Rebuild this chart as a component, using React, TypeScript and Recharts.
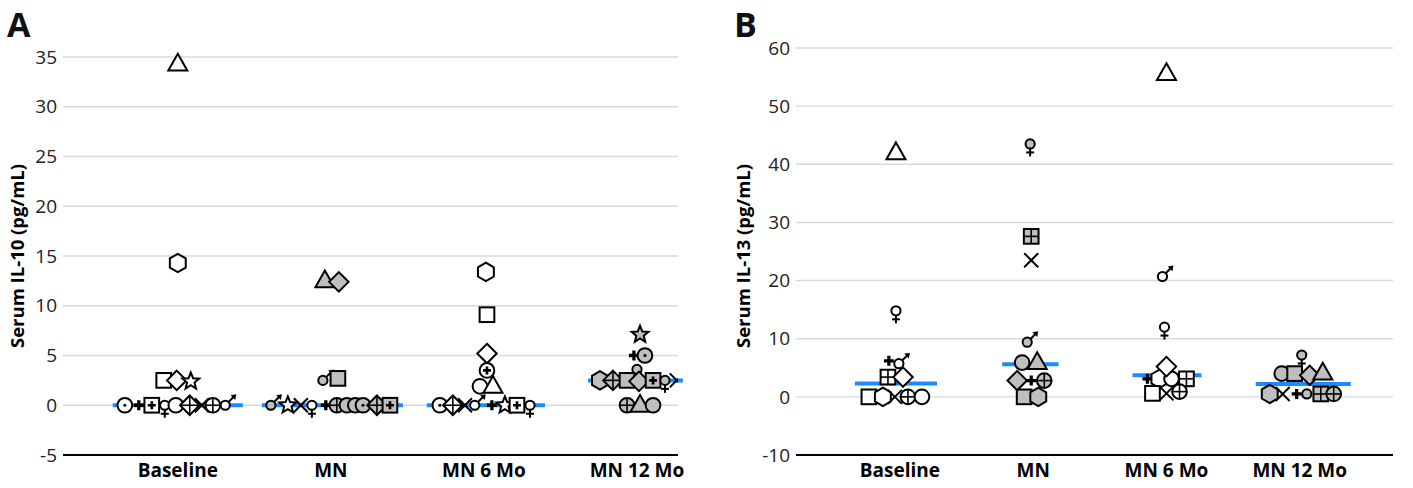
import React from "react";
import { ScatterChart, Scatter, XAxis, YAxis, CartesianGrid, ReferenceLine } from "recharts";

// [offset from category centre, value, marker, grey fill?]
type Pt = [number, number, string, number];

const categories = ["Baseline", "MN", "MN 6 Mo", "MN 12 Mo"];

const il10Ticks = [-5, 0, 5, 10, 15, 20, 25, 30, 35];
const il13Ticks = [-10, 0, 10, 20, 30, 40, 50, 60];

const il10Baseline: Pt[] = [
  [0, 34.3, "triangle", 0], [0, 14.3, "hexagon", 0],
  [-0.092, 2.5, "square", 0], [-0.007, 2.5, "diamond", 0], [0.085, 2.4, "star", 0],
  [-0.346, 0, "circleDot", 0], [-0.255, 0, "boldPlus", 0], [-0.17, 0, "squarePlus", 0],
  [-0.085, 0, "female", 0], [-0.013, 0, "circle", 0], [0.078, 0, "diamondPlus", 0],
  [0.157, 0, "x", 0], [0.229, 0, "circlePlus", 0], [0.31, 0, "male", 0],
];
const il10MN: Pt[] = [
  [-0.039, 12.5, "triangle", 1], [0.052, 12.4, "diamond", 1],
  [-0.052, 2.5, "male", 1], [0.046, 2.7, "square", 1],
  [-0.392, 0, "male", 1], [-0.281, 0, "star", 0], [-0.196, 0, "x", 0], [-0.124, 0, "female", 0],
  [-0.033, 0, "boldPlus", 0], [0.039, 0, "circlePlus", 1], [0.105, 0, "circle", 1],
  [0.16, 0, "circle", 1], [0.21, 0, "circleDot", 1], [0.301, 0, "diamondPlus", 1],
  [0.386, 0, "squarePlus", 1],
];
const il10MN6: Pt[] = [
  [0.013, 13.4, "hexagon", 0], [0.02, 9.1, "square", 0], [0.02, 5.2, "diamond", 0],
  [0.02, 3.5, "circleBoldPlus", 0], [-0.026, 1.9, "circle", 0], [0.059, 1.9, "triangle", 0],
  [-0.288, 0, "circleDot", 0], [-0.203, 0, "diamondPlus", 0], [-0.124, 0, "x", 0],
  [-0.06, 0, "male", 0], [0.052, 0, "boldPlus", 0], [0.137, 0, "star", 0],
  [0.216, 0, "squarePlus", 0], [0.301, 0, "female", 0],
];
const il10MN12: Pt[] = [
  [0.02, 7.1, "star", 1], [-0.02, 5.0, "boldPlus", 1], [0.052, 5.0, "circleDot", 1],
  [0, 3.6, "smallCircle", 1],
  [-0.242, 2.5, "hexagon", 1], [-0.157, 2.5, "diamondPlus", 1], [-0.065, 2.5, "square", 1],
  [0.013, 2.4, "diamond", 1], [0.105, 2.5, "squarePlus", 1], [0.183, 2.5, "female", 1],
  [0.26, 2.5, "x", 1],
  [-0.065, 0, "circlePlus", 1], [0.02, 0, "triangle", 1], [0.105, 0, "circle", 1],
];

const il13Baseline: Pt[] = [
  [-0.03, 42.0, "triangle", 0], [-0.03, 14.8, "female", 0],
  [-0.083, 6.2, "boldPlus", 0], [-0.008, 5.7, "male", 0],
  [-0.09, 3.4, "squareGrid", 0], [0.023, 3.4, "diamond", 0],
  [-0.233, 0, "square", 0], [-0.128, 0, "hexagon", 0], [-0.038, 0, "x", 0],
  [0.06, 0, "circlePlus", 0], [0.165, 0, "circle", 0],
];
const il13MN: Pt[] = [
  [-0.023, 43.5, "female", 1], [-0.015, 27.6, "squareGrid", 1], [-0.015, 23.5, "x", 0],
  [-0.045, 9.4, "male", 1],
  [-0.083, 5.9, "circle", 1], [0.03, 5.9, "triangle", 1],
  [-0.068, 0, "square", 1], [0.038, 0, "hexagon", 1],
  [-0.12, 2.8, "diamond", 1], [-0.015, 2.8, "boldPlus", 1], [0.083, 2.8, "circlePlus", 1],
];
const il13MN6: Pt[] = [
  [0, 55.6, "triangle", 0], [-0.03, 20.7, "male", 0], [-0.015, 12.0, "female", 0],
  [-0.143, 3.1, "boldPlus", 0], [-0.053, 3.1, "hexagon", 0], [0.038, 3.1, "circle", 0],
  [0.15, 3.1, "squareGrid", 0], [0, 5.2, "diamond", 0],
  [-0.105, 0.6, "square", 0], [0, 0.6, "x", 0], [0.098, 0.9, "circlePlus", 0],
];
const il13MN12: Pt[] = [
  [0.015, 7.2, "female", 1],
  [-0.135, 4.0, "circle", 1], [-0.038, 4.0, "square", 1], [0.075, 3.7, "diamond", 1],
  [0.173, 4.1, "triangle", 1],
  [-0.225, 0.5, "hexagon", 1], [-0.128, 0.5, "x", 1], [-0.023, 0.5, "boldPlus", 1],
  [0.053, 0.5, "smallCircle", 1], [0.158, 0.5, "squareGrid", 1], [0.255, 0.5, "circlePlus", 1],
];

const il10Median = [0, 0, 0, 2.5];
const il10MedianFrom = [-0.425, -0.451, -0.373, -0.32];
const il10MedianTo = [0.425, 0.471, 0.399, 0.3];
const il13Median = [2.3, 5.6, 3.7, 2.2];
const il13MedianFrom = [-0.338, -0.233, -0.255, -0.33];
const il13MedianTo = [0.278, 0.19, 0.263, 0.383];

const GREY = "#bfbfbf";
const BLUE = "#1a8cff";
const K = 1.08; // marker scale

const toPoints = (groups: Pt[][]) =>
  groups.flatMap((pts, i) => pts.map(([dx, y, s, g]) => ({ x: i + 1 + dx, y, s, g })));

const boldPlus = (cx: number, cy: number, a: number, t: number) => (
  <path
    d={`M${cx - t / 2},${cy - a}h${t}v${a - t / 2}h${a - t / 2}v${t}h${-(a - t / 2)}v${a - t / 2}h${-t}v${-(a - t / 2)}h${-(a - t / 2)}v${-t}h${a - t / 2}z`}
    fill="#000"
  />
);

function Marker(props: any) {
  const { cx, cy, payload } = props;
  if (cx == null || cy == null) return null;
  const fill = payload.g ? GREY : "#fff";
  const st = { stroke: "#000", strokeWidth: 2, fill };
  const ln = { stroke: "#000", strokeWidth: 1.6 };
  const r = 6.8 * K;
  const h = 6.8 * K;
  const d = 9 * K;
  switch (payload.s) {
    case "circle":
      return <circle cx={cx} cy={cy} r={r} {...st} />;
    case "smallCircle":
      return <circle cx={cx} cy={cy} r={4.6} {...st} />;
    case "circleDot":
      return (
        <g>
          <circle cx={cx} cy={cy} r={r} {...st} />
          <circle cx={cx} cy={cy} r={1.6} fill="#000" />
        </g>
      );
    case "circlePlus":
      return (
        <g>
          <circle cx={cx} cy={cy} r={r} {...st} />
          <line x1={cx - r} x2={cx + r} y1={cy} y2={cy} {...ln} />
          <line x1={cx} x2={cx} y1={cy - r} y2={cy + r} {...ln} />
        </g>
      );
    case "circleBoldPlus":
      return (
        <g>
          <circle cx={cx} cy={cy} r={r} {...st} />
          {boldPlus(cx, cy, 4, 2.7)}
        </g>
      );
    case "square":
      return <rect x={cx - h} y={cy - h} width={2 * h} height={2 * h} {...st} />;
    case "squarePlus":
      return (
        <g>
          <rect x={cx - h} y={cy - h} width={2 * h} height={2 * h} {...st} />
          {boldPlus(cx, cy, 4, 2.7)}
        </g>
      );
    case "squareGrid":
      return (
        <g>
          <rect x={cx - h} y={cy - h} width={2 * h} height={2 * h} {...st} />
          <line x1={cx - h} x2={cx + h} y1={cy} y2={cy} {...ln} />
          <line x1={cx} x2={cx} y1={cy - h} y2={cy + h} {...ln} />
        </g>
      );
    case "diamond":
      return <polygon points={`${cx},${cy - d} ${cx + d},${cy} ${cx},${cy + d} ${cx - d},${cy}`} {...st} />;
    case "diamondPlus":
      return (
        <g>
          <polygon points={`${cx},${cy - d} ${cx + d},${cy} ${cx},${cy + d} ${cx - d},${cy}`} {...st} />
          <line x1={cx - d} x2={cx + d} y1={cy} y2={cy} {...ln} />
          <line x1={cx} x2={cx} y1={cy - d} y2={cy + d} {...ln} />
        </g>
      );
    case "triangle":
      return (
        <polygon
          points={`${cx},${cy - 9.5 * K} ${cx + 8.8 * K},${cy + 6 * K} ${cx - 8.8 * K},${cy + 6 * K}`}
          {...st}
        />
      );
    case "hexagon": {
      const pts = [-90, -30, 30, 90, 150, 210]
        .map((a) => `${cx + 8.5 * K * Math.cos((a * Math.PI) / 180)},${cy + 8.5 * K * Math.sin((a * Math.PI) / 180)}`)
        .join(" ");
      return <polygon points={pts} {...st} />;
    }
    case "star": {
      const pts = Array.from({ length: 10 }, (_, k) => {
        const rr = k % 2 === 0 ? 8.2 * K : 3.6 * K;
        const a = ((-90 + k * 36) * Math.PI) / 180;
        return `${cx + rr * Math.cos(a)},${cy + rr * Math.sin(a)}`;
      }).join(" ");
      return <polygon points={pts} {...st} />;
    }
    case "x":
      return (
        <g>
          <line x1={cx - 7} x2={cx + 7} y1={cy - 7} y2={cy + 7} stroke="#000" strokeWidth={2} />
          <line x1={cx - 7} x2={cx + 7} y1={cy + 7} y2={cy - 7} stroke="#000" strokeWidth={2} />
        </g>
      );
    case "boldPlus":
      return boldPlus(cx, cy, 5, 3.3);
    case "male":
      return (
        <g>
          <line x1={cx + 3} y1={cy - 3} x2={cx + 8.5} y2={cy - 8.5} stroke="#000" strokeWidth={2} />
          <polygon points={`${cx + 11},${cy - 11} ${cx + 5.3},${cy - 10} ${cx + 10},${cy - 5.3}`} fill="#000" />
          <circle cx={cx} cy={cy} r={4.6} {...st} />
        </g>
      );
    case "female":
      return (
        <g>
          <line x1={cx} y1={cy + 4} x2={cx} y2={cy + 12.5} stroke="#000" strokeWidth={2} />
          <line x1={cx - 4} y1={cy + 8.5} x2={cx + 4} y2={cy + 8.5} stroke="#000" strokeWidth={2} />
          <circle cx={cx} cy={cy} r={4.6} {...st} />
        </g>
      );
    default:
      return null;
  }
}

const yLabel = (text: string, x: number, y: number) => () => (
  <text
    x={x}
    y={y}
    transform={`rotate(-90 ${x} ${y})`}
    textAnchor="middle"
    dominantBaseline="central"
    fontSize={18.5}
    fontWeight={700}
    fill="#000"
  >
    {text}
  </text>
);

type PanelProps = {
  points: { x: number; y: number; s: string; g: number }[];
  ticks: number[];
  xDomain: [number, number];
  medians: number[];
  from: number[];
  to: number[];
  width: number;
  top: number;
  right: number;
  axisWidth: number;
  label: string;
  labelX: number;
};

function Panel(p: PanelProps) {
  return (
    <ScatterChart width={p.width} height={488} margin={{ top: p.top, right: p.right, bottom: 0, left: 0 }}>
      <CartesianGrid vertical={false} stroke="#d9d9d9" strokeWidth={1.4} />
      <XAxis
        type="number"
        dataKey="x"
        domain={p.xDomain}
        ticks={[1, 2, 3, 4]}
        interval={0}
        allowDataOverflow
        tickFormatter={(v: number) => categories[v - 1]}
        tickLine={false}
        axisLine={{ stroke: "#000", strokeWidth: 2 }}
        tick={{ fill: "#000", fontSize: 19, fontWeight: 700 }}
        tickMargin={3}
        height={33}
      />
      <YAxis
        type="number"
        dataKey="y"
        domain={[p.ticks[0], p.ticks[p.ticks.length - 1]]}
        ticks={p.ticks}
        interval={0}
        tickLine={false}
        axisLine={false}
        tick={{ fill: "#222", fontSize: 19 }}
        tickMargin={0}
        width={p.axisWidth}
        label={yLabel(p.label, p.labelX, 256)}
      />
      {p.medians.map((m, i) => (
        <ReferenceLine
          key={i}
          segment={[
            { x: i + 1 + p.from[i], y: m },
            { x: i + 1 + p.to[i], y: m },
          ]}
          stroke={BLUE}
          strokeWidth={4}
          ifOverflow="visible"
        />
      ))}
      <Scatter data={p.points} shape={Marker} isAnimationActive={false} />
    </ScatterChart>
  );
}

const letter: React.CSSProperties = {
  position: "absolute",
  top: 7,
  fontSize: 34,
  fontWeight: 700,
  lineHeight: "34px",
  color: "#111",
};

export default function App() {
  return (
    <div
      style={{
        position: "absolute",
        left: 0,
        top: 0,
        width: 1413,
        height: 488,
        background: "#fff",
        fontFamily: "'Open Sans', 'DejaVu Sans', sans-serif",
      }}
    >
      <div style={{ position: "absolute", left: 0, top: 0 }}>
        <Panel
          points={toPoints([il10Baseline, il10MN, il10MN6, il10MN12])}
          ticks={il10Ticks}
          xDomain={[0.25, 4.268]}
          medians={il10Median}
          from={il10MedianFrom}
          to={il10MedianTo}
          width={700}
          top={57}
          right={22}
          axisWidth={63}
          label="Serum IL-10 (pg/mL)"
          labelX={16}
        />
      </div>
      <div style={{ position: "absolute", left: 720, top: 0 }}>
        <Panel
          points={toPoints([il13Baseline, il13MN, il13MN6, il13MN12])}
          ticks={il13Ticks}
          xDomain={[0.22, 4.7]}
          medians={il13Median}
          from={il13MedianFrom}
          to={il13MedianTo}
          width={693}
          top={48}
          right={20}
          axisWidth={76}
          label="Serum IL-13 (pg/mL)"
          labelX={22}
        />
      </div>
      <div style={{ ...letter, left: 7 }}>A</div>
      <div style={{ ...letter, left: 734 }}>B</div>
    </div>
  );
}
